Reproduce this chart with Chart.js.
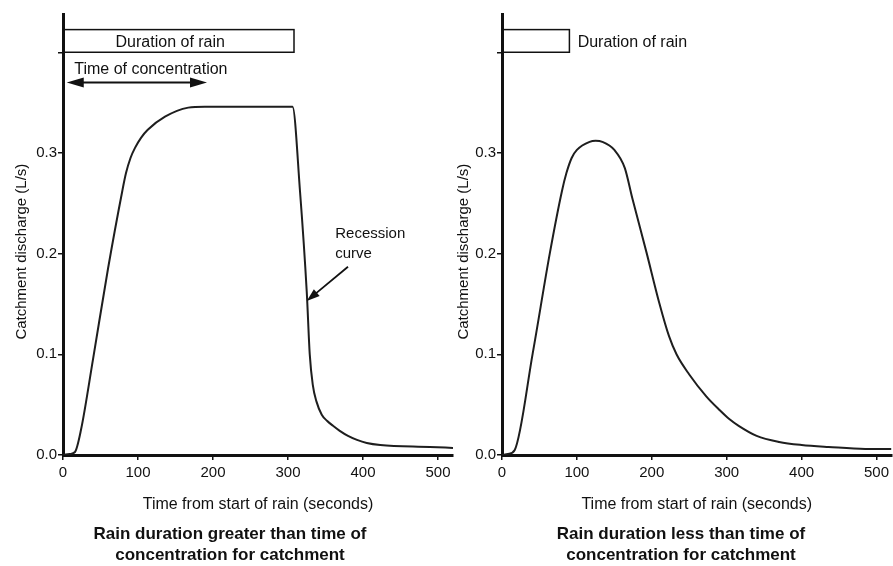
<!DOCTYPE html>
<html>
<head>
<meta charset="utf-8">
<title>Catchment discharge</title>
<script src="https://cdn.jsdelivr.net/npm/chart.js@4.4.1/dist/chart.umd.min.js"></script>
<style>
  body { margin: 0; background: #fff; }
  .wrap { position: relative; width: 893px; height: 566px; }
  canvas { position: absolute; top: 0; }
  #left { left: 0; }
  #right { left: 440px; }
</style>
</head>
<body>
<div class="wrap">
  <canvas id="left" width="460" height="566"></canvas>
  <canvas id="right" width="453" height="566"></canvas>
</div>
<script>
// time from start of rain (s) and catchment discharge (L/s)
const timeLong = [0, 9, 16, 24, 40, 60, 79, 84, 90, 96, 104, 113, 136, 167, 189, 306, 316, 325, 329, 333, 338, 345, 352, 360, 369, 380, 392, 405, 423, 489, 520];
const flowLong = [0, 0.001, 0.003, 0.025, 0.095, 0.185, 0.262, 0.28, 0.295, 0.305, 0.315, 0.323, 0.336, 0.345, 0.346, 0.346, 0.262, 0.162, 0.1, 0.07, 0.053, 0.04, 0.034, 0.029, 0.024, 0.019, 0.015, 0.012, 0.01, 0.008, 0.007];

const timeShort = [0, 8, 17, 41, 64, 80, 86, 93, 100, 117, 125, 134, 150, 164, 174, 193, 210, 223, 233, 250, 273, 290, 303, 316, 340, 370, 400, 436, 485, 520];
const flowShort = [0, 0.001, 0.005, 0.101, 0.201, 0.262, 0.28, 0.295, 0.303, 0.311, 0.312, 0.311, 0.303, 0.285, 0.255, 0.201, 0.151, 0.118, 0.1, 0.08, 0.058, 0.045, 0.036, 0.029, 0.019, 0.013, 0.01, 0.008, 0.006, 0.006];

const rainDuration = [308, 90]; // seconds (long rain, short rain)
const concentrationTime = 192; // seconds

const xTicks = [0, 100, 200, 300, 400, 500];
const yTicks = [0, 0.1, 0.2, 0.3, 0.4];
const yTickLabels = ["0.0", "0.1", "0.2", "0.3", ""];

const captions = [
  ["Rain duration greater than time of", "concentration for catchment"],
  ["Rain duration less than time of", "concentration for catchment"],
];

const ink = "#111";
const FONT = '"Liberation Sans", Arial, sans-serif';
Chart.defaults.font.family = FONT;
Chart.defaults.color = ink;

const arrowHead = (ctx, x0, y0, x1, y1, len, half) => {
  const a = Math.atan2(y1 - y0, x1 - x0);
  ctx.beginPath();
  ctx.moveTo(x1, y1);
  ctx.lineTo(x1 - len * Math.cos(a) + half * Math.sin(a), y1 - len * Math.sin(a) - half * Math.cos(a));
  ctx.lineTo(x1 - len * Math.cos(a) - half * Math.sin(a), y1 - len * Math.sin(a) + half * Math.cos(a));
  ctx.closePath();
  ctx.fill();
};

// box, arrows and labels drawn in data units through the chart scales
const sketch = {
  id: "sketch",
  afterDatasetsDraw(chart, args, o) {
    const { ctx, chartArea, scales: { x, y } } = chart;
    ctx.save();
    ctx.strokeStyle = ink;
    ctx.fillStyle = ink;

    // duration of rain box
    const bx0 = x.getPixelForValue(0), bx1 = x.getPixelForValue(o.rain);
    const by0 = y.getPixelForValue(o.band[1]), by1 = y.getPixelForValue(o.band[0]);
    ctx.lineWidth = 1.5;
    ctx.strokeRect(bx0, by0, bx1 - bx0, by1 - by0);

    ctx.font = "16px " + FONT;
    ctx.textBaseline = "middle";
    ctx.textAlign = o.rainAlign;
    ctx.fillText("Duration of rain", x.getPixelForValue(o.rainAt[0]), y.getPixelForValue(o.rainAt[1]));

    if (o.tc) {
      ctx.textAlign = "left";
      ctx.fillText("Time of concentration", x.getPixelForValue(o.tcTextAt[0]), y.getPixelForValue(o.tcTextAt[1]));
      const ay = y.getPixelForValue(o.tcArrowY);
      const a0 = x.getPixelForValue(5), a1 = x.getPixelForValue(o.tc);
      ctx.lineWidth = 2;
      ctx.beginPath();
      ctx.moveTo(a0 + 10, ay);
      ctx.lineTo(a1 - 10, ay);
      ctx.stroke();
      arrowHead(ctx, a1, ay, a0, ay, 17, 5);
      arrowHead(ctx, a0, ay, a1, ay, 17, 5);
    }

    if (o.recession) {
      ctx.font = "15px " + FONT;
      ctx.textAlign = "left";
      const rx = x.getPixelForValue(o.recession.text[0]);
      ctx.fillText("Recession", rx, y.getPixelForValue(o.recession.text[1]));
      ctx.fillText("curve", rx, y.getPixelForValue(o.recession.text[2]));
      const t0 = x.getPixelForValue(o.recession.tail[0]), t1 = y.getPixelForValue(o.recession.tail[1]);
      const h0 = x.getPixelForValue(o.recession.tip[0]), h1 = y.getPixelForValue(o.recession.tip[1]);
      ctx.lineWidth = 1.8;
      ctx.beginPath();
      ctx.moveTo(t0, t1);
      ctx.lineTo(h0 + (t0 - h0) * 0.2, h1 + (t1 - h1) * 0.2);
      ctx.stroke();
      arrowHead(ctx, t0, t1, h0, h1, 13, 4.5);
    }

    // y axis title, centred near 0.2
    ctx.font = "15px " + FONT;
    ctx.textAlign = "center";
    ctx.translate(chartArea.left - o.titleGap, y.getPixelForValue(0.202));
    ctx.rotate(-Math.PI / 2);
    ctx.fillText("Catchment discharge (L/s)", 0, 0);
    ctx.restore();
  },
};

const makeChart = (id, times, flows, caption, pad, yWidth, notes) => {
  const axisLine = { color: ink, width: 3 };
  const tickGrid = { drawOnChartArea: false, tickLength: 5, color: ink, lineWidth: 1.5 };
  return new Chart(document.getElementById(id), {
    type: "line",
    data: {
      datasets: [
        {
          data: times.map((t, i) => ({ x: t, y: flows[i] })),
          borderColor: "#1e1e1e",
          borderWidth: 2,
          pointRadius: 0,
          cubicInterpolationMode: "monotone",
          fill: false,
        },
      ],
    },
    options: {
      responsive: false,
      animation: false,
      devicePixelRatio: 1,
      layout: { padding: { left: pad[0], right: pad[1], top: 14, bottom: 0 } },
      scales: {
        x: {
          type: "linear",
          min: 0,
          max: 520,
          afterBuildTicks: (s) => { s.ticks = xTicks.map((v) => ({ value: v })); },
          afterFit: (s) => { s.height = 64.5; },
          ticks: { font: { size: 15 }, color: ink, padding: 4, maxRotation: 0, autoSkip: false },
          grid: tickGrid,
          border: axisLine,
          title: {
            display: true,
            text: "Time from start of rain (seconds)",
            font: { size: 16 },
            color: ink,
            padding: { top: 0, bottom: 5 },
          },
        },
        y: {
          min: 0,
          max: 0.438,
          afterBuildTicks: (s) => { s.ticks = yTicks.map((v) => ({ value: v })); },
          afterFit: (s) => { s.width = yWidth; },
          ticks: { font: { size: 15 }, color: ink, padding: 1, callback: (v, i) => yTickLabels[i] },
          grid: tickGrid,
          border: axisLine,
        },
      },
      plugins: {
        legend: { display: false },
        tooltip: { enabled: false },
        title: {
          display: true,
          position: "bottom",
          text: caption,
          color: ink,
          font: { size: 17, weight: "bold", lineHeight: 1.25 },
          padding: { top: 4, bottom: 0 },
        },
        sketch: notes,
      },
    },
    plugins: [sketch],
  });
};

makeChart("left", timeLong, flowLong, captions[0], [7, 7], 56, {
  rain: rainDuration[0],
  band: [0.4, 0.4225],
  rainAt: [143, 0.41],
  rainAlign: "center",
  tc: concentrationTime,
  tcTextAt: [15, 0.383],
  tcArrowY: 0.37,
  recession: { text: [363, 0.22, 0.2], tail: [380, 0.187], tip: [325, 0.153] },
  titleGap: 41,
});

makeChart("right", timeShort, flowShort, captions[1], [29, 0], 33, {
  rain: rainDuration[1],
  band: [0.4, 0.4225],
  rainAt: [101, 0.41],
  rainAlign: "left",
  titleGap: 38,
});
</script>
</body>
</html>
